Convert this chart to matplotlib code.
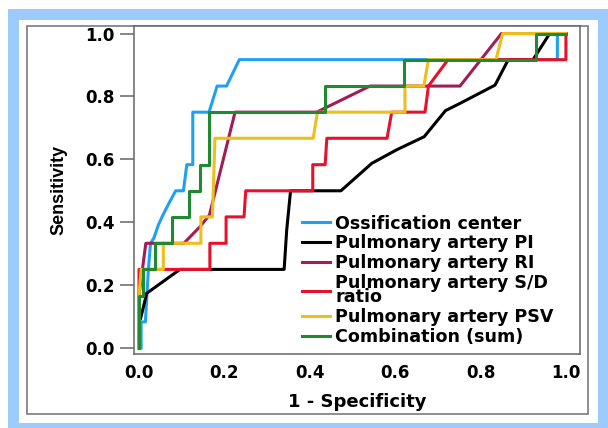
import matplotlib
matplotlib.use("Agg")
import matplotlib.pyplot as plt
from matplotlib.patches import Rectangle

# ROC curves (x = 1 - specificity, y = sensitivity)
oss_x = [0.005, 0.005, 0.015, 0.022, 0.027, 0.035, 0.045, 0.055, 0.070, 0.086, 0.104, 0.112, 0.126, 0.126, 0.164, 0.183, 0.205, 0.235, 0.980, 0.980, 1.0]
oss_y = [0.0, 0.083, 0.083, 0.25, 0.333, 0.35, 0.39, 0.42, 0.46, 0.5, 0.5, 0.583, 0.583, 0.75, 0.75, 0.833, 0.833, 0.917, 0.917, 1.0, 1.0]

pi_x = [0.004, 0.018, 0.096, 0.340, 0.346, 0.355, 0.473, 0.545, 0.603, 0.668, 0.718, 0.752, 0.834, 0.865, 0.923, 0.962, 1.0]
pi_y = [0.095, 0.174, 0.25, 0.25, 0.375, 0.5, 0.5, 0.587, 0.63, 0.672, 0.755, 0.778, 0.836, 0.917, 0.917, 1.0, 1.0]

ri_x = [0.0, 0.0, 0.008, 0.016, 0.105, 0.143, 0.165, 0.225, 0.416, 0.541, 0.752, 0.849, 1.0]
ri_y = [0.0, 0.167, 0.25, 0.333, 0.333, 0.386, 0.423, 0.75, 0.75, 0.833, 0.833, 1.0, 1.0]

sd_x = [0.0, 0.0, 0.166, 0.166, 0.204, 0.204, 0.246, 0.250, 0.407, 0.407, 0.436, 0.440, 0.581, 0.592, 0.670, 0.678, 0.724, 1.0, 1.0]
sd_y = [0.0, 0.25, 0.25, 0.333, 0.333, 0.417, 0.417, 0.5, 0.5, 0.583, 0.583, 0.667, 0.667, 0.75, 0.75, 0.833, 0.917, 0.917, 1.0]

psv_x = [0.0, 0.0, 0.005, 0.057, 0.057, 0.145, 0.145, 0.172, 0.178, 0.408, 0.418, 0.623, 0.623, 0.667, 0.678, 0.836, 0.852, 1.0]
psv_y = [0.0, 0.167, 0.25, 0.25, 0.333, 0.333, 0.417, 0.417, 0.667, 0.667, 0.75, 0.75, 0.833, 0.833, 0.917, 0.917, 1.0, 1.0]

comb_x = [0.0, 0.0, 0.009, 0.009, 0.037, 0.037, 0.077, 0.077, 0.116, 0.116, 0.144, 0.144, 0.164, 0.164, 0.436, 0.436, 0.621, 0.621, 0.931, 0.931, 1.0]
comb_y = [0.0, 0.167, 0.167, 0.25, 0.25, 0.333, 0.333, 0.417, 0.417, 0.5, 0.5, 0.583, 0.583, 0.75, 0.75, 0.833, 0.833, 0.917, 0.917, 1.0, 1.0]

labels = ["Ossification center", "Pulmonary artery PI", "Pulmonary artery RI",
          "Pulmonary artery S/D\nratio", "Pulmonary artery PSV", "Combination (sum)"]
colors = ["#1fa0f2", "#000000", "#a01d58", "#e8112d", "#eebe1a", "#1f8a32"]
curves = [(oss_x, oss_y), (pi_x, pi_y), (ri_x, ri_y), (sd_x, sd_y), (psv_x, psv_y), (comb_x, comb_y)]

W, H = 608, 428
fig = plt.figure(figsize=(W / 100, H / 100), dpi=100)

# light blue border and grey frame
fig.patches.append(Rectangle((8 / W, 0), 1, 1 - 9 / H, transform=fig.transFigure,
                             facecolor="#9dcbfb", edgecolor="none", zorder=-3))
fig.patches.append(Rectangle((19 / W, 1 - 423 / H), (598 - 19) / W, (423 - 20) / H,
                             transform=fig.transFigure, facecolor="white", edgecolor="none", zorder=-2))
fig.patches.append(Rectangle((27 / W, 1 - 414 / H), (588 - 27) / W, (414 - 26) / H,
                             transform=fig.transFigure, facecolor="none", edgecolor="#7a7a7a",
                             linewidth=1.2, zorder=-1))

ax = fig.add_axes([134 / W, 1 - 354 / H, (580 - 134) / W, (354 - 26) / H])
for (x, y), lab, c in zip(curves, labels, colors):
    ax.plot(x, y, color=c, linewidth=2.2, label=lab)

ax.set_xlim(-0.0117, 1.033)
ax.set_ylim(-0.019, 1.024)
ticks = [0.0, 0.2, 0.4, 0.6, 0.8, 1.0]
ax.set_xticks(ticks)
ax.set_yticks(ticks)
ax.set_xticklabels([f"{t:.1f}" for t in ticks])
ax.set_yticklabels([f"{t:.1f}" for t in ticks])
for s in ax.spines.values():
    s.set_color("#666666")
    s.set_linewidth(1.1)
ax.tick_params(axis="y", length=10, width=1.1, color="#666666", pad=4)
ax.tick_params(axis="x", length=0, pad=7)
for t in ax.get_xticklabels() + ax.get_yticklabels():
    t.set_fontfamily("DejaVu Sans")
    t.set_fontweight("bold")
    t.set_fontsize(12)

ax.set_xlabel("1 - Specificity", fontfamily="DejaVu Sans", fontweight="bold", fontsize=13, labelpad=8)
ax.set_ylabel("Sensitivity", fontfamily=["Liberation Sans Narrow", "Liberation Sans"],
              fontweight="bold", fontsize=13, labelpad=13)

leg = ax.legend(loc="upper left", bbox_to_anchor=(0.377, 0.425), frameon=False,
                borderpad=0, borderaxespad=0, handlelength=1.6, handletextpad=0.3,
                labelspacing=0.1, prop={"family": "DejaVu Sans", "weight": "bold", "size": 12.6})
for t in leg.get_texts():
    t.set_linespacing(0.75)

fig.savefig("out.png", dpi=100)
